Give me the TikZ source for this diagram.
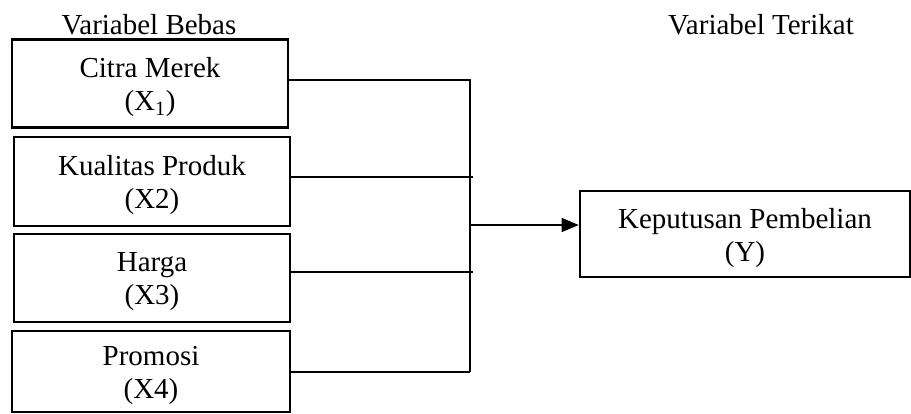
\documentclass[tikz,border=0pt]{standalone}
\usepackage{fontspec}
\setmainfont{Liberation Serif}
\usetikzlibrary{arrows.meta}
\begin{document}
\begin{tikzpicture}[x=1pt,y=-1pt,
  box/.style={draw, line width=2.6pt, rectangle, inner sep=0pt},
  lbl/.style={inner sep=0pt, align=center, font=\fontsize{29}{33}\selectfont},
  conn/.style={line width=1.1pt}]
\useasboundingbox (0,0) rectangle (911,414);
\node[lbl] (hb) at (149,25) {Variabel Bebas};
\node[lbl] (ht) at (761,25) {Variabel Terikat};
\node[box, minimum width=276pt, minimum height=88pt,
  label={[lbl,yshift=-4pt]center:Citra Merek\\(X\textsubscript{1})}] (b1) at (150,83.5) {};
\node[box, minimum width=276pt, minimum height=89pt,
  label={[lbl,yshift=-4pt]center:Kualitas Produk\\(X2)}] (b2) at (152,181.5) {};
\node[box, minimum width=276pt, minimum height=88pt,
  label={[lbl,yshift=-4pt]center:Harga\\(X3)}] (b3) at (152,278) {};
\node[box, minimum width=278pt, minimum height=81pt,
  label={[lbl,yshift=-4pt]center:Promosi\\(X4)}] (b4) at (151,371.5) {};
\node[box, minimum width=330pt, minimum height=86pt,
  label={[lbl,yshift=-4pt]center:Keputusan Pembelian\\(Y)}] (y) at (745,234) {};
\coordinate (t) at (470,80);
\coordinate (m2) at (473,177);
\coordinate (m3) at (473,272);
\coordinate (bt) at (470,372);
\coordinate (j) at (470,225);
\draw[conn] ([yshift=3.5pt]b1.east) -- (t) -- (bt);
\draw[conn] ([yshift=4.5pt]b2.east) -- (m2);
\draw[conn] ([yshift=6pt]b3.east) -- (m3);
\draw[conn] ([yshift=-0.5pt]b4.east) -- (bt);
\draw[conn, -{Triangle[length=17pt,width=14pt]}] (j) -- ([yshift=9pt]y.west);
\end{tikzpicture}
\end{document}
